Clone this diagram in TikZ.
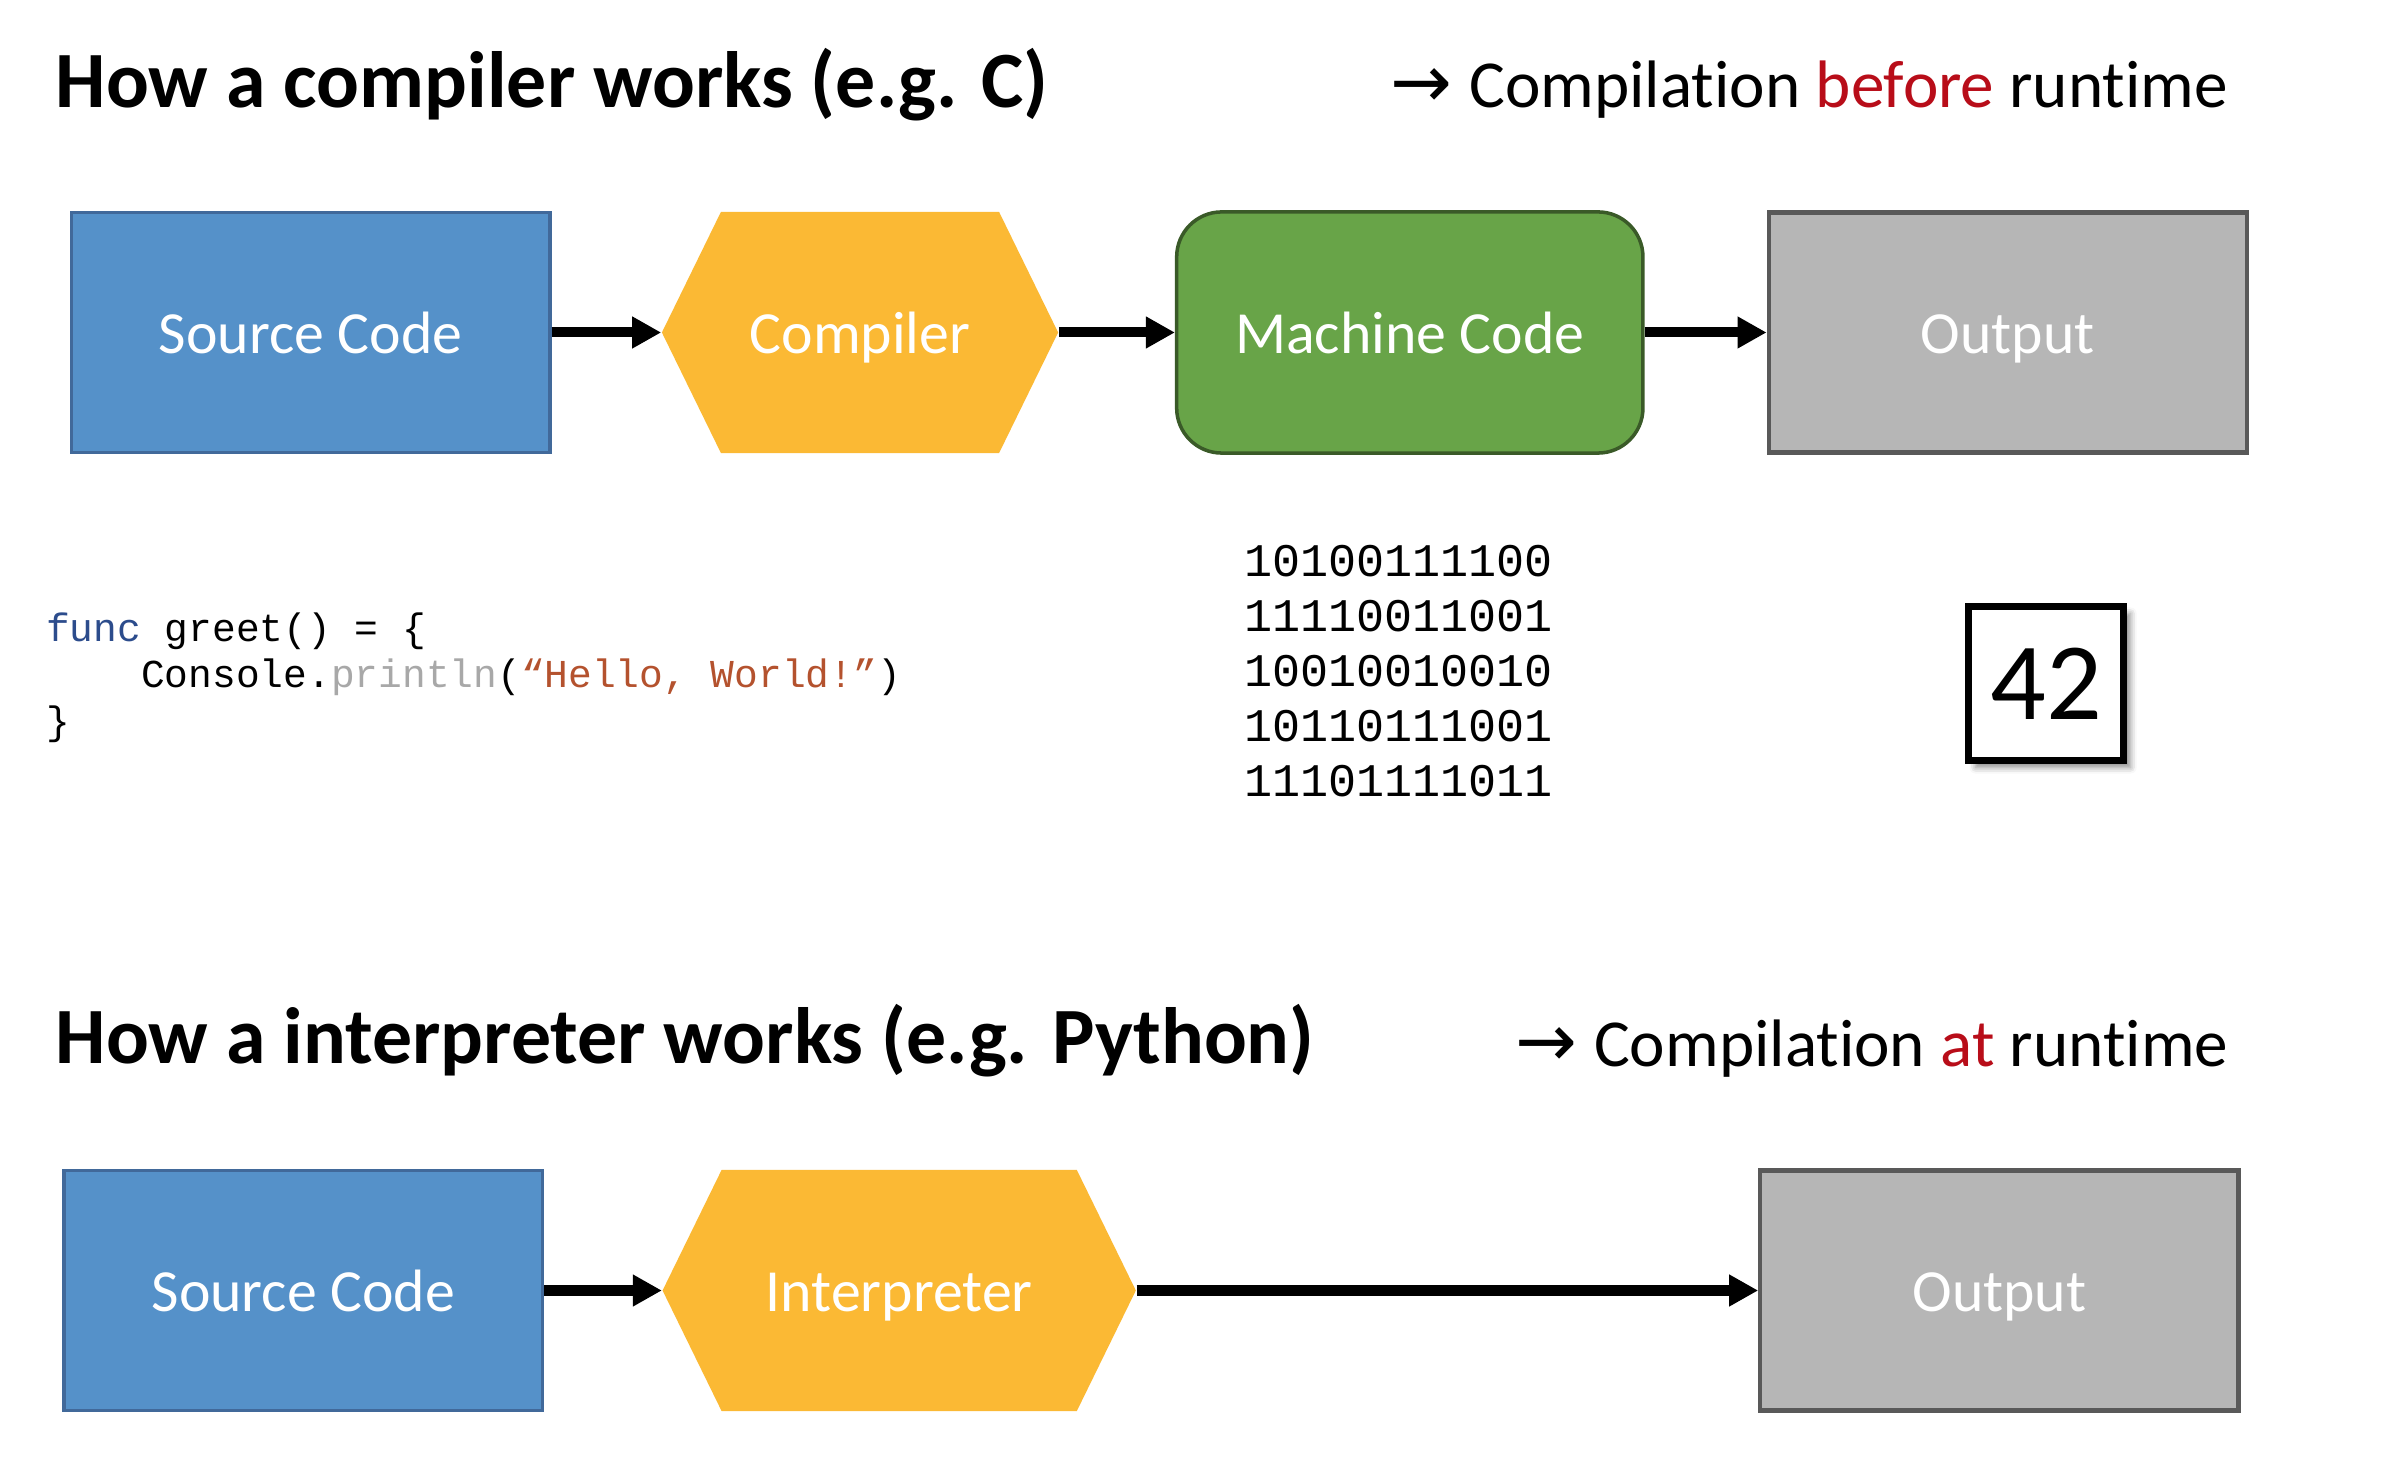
\documentclass[tikz,border=0pt]{standalone}
\usepackage{fontspec}
\setmainfont{Carlito}[Ligatures=NoCommon]
\newfontfamily\codefont{Liberation Mono}
\newfontfamily\arrowfont{DejaVu Sans}
\usepackage{tikz}
\usetikzlibrary{arrows.meta}
\usetikzlibrary{shadows.blur}

\definecolor{srcblue}{HTML}{5591C9}
\definecolor{srcedge}{HTML}{41699A}
\definecolor{hexorange}{HTML}{FBB934}
\definecolor{machgreen}{HTML}{68A448}
\definecolor{machedge}{HTML}{3A5A28}
\definecolor{outgray}{HTML}{B6B6B6}
\definecolor{outedge}{HTML}{595959}
\definecolor{darkred}{HTML}{B80D19}
\definecolor{kwblue}{HTML}{2C4C8C}
\definecolor{fngray}{HTML}{A8A8A8}
\definecolor{strrust}{HTML}{B4522E}

\tikzset{
  boxlabel/.style={text=white, font=\fontsize{17}{20}\selectfont, text height=11.8pt, text depth=0pt},
  srcbox/.style={boxlabel, rectangle, fill=srcblue, draw=srcedge, line width=1pt,
    minimum width=4.78cm, minimum height=2.40cm},
  hexbox/.style={boxlabel, rectangle, fill=white, minimum height=2.41cm,
    path picture={\fill[hexorange] (path picture bounding box.west)
      -- ([xshift=0.59cm]path picture bounding box.north west)
      -- ([xshift=-0.59cm]path picture bounding box.north east)
      -- (path picture bounding box.east)
      -- ([xshift=-0.59cm]path picture bounding box.south east)
      -- ([xshift=0.59cm]path picture bounding box.south west) -- cycle;}},
  outbox/.style={boxlabel, rectangle, fill=outgray, draw=outedge, line width=1.2pt,
    minimum width=4.78cm, minimum height=2.40cm},
  flow/.style={line width=2.85pt, -{Triangle[length=2.9mm, width=3mm]}},
  headline/.style={anchor=base west, inner sep=0pt, font=\fontsize{22.7}{27}\selectfont\bfseries},
  sidenote/.style={anchor=base west, inner sep=0pt, font=\fontsize{19.1}{23}\selectfont},
  codeline/.style={anchor=base west, inner sep=0pt, font=\codefont\fontsize{11.25}{13}\selectfont},
  bitline/.style={anchor=base west, inner sep=0pt, font=\codefont\fontsize{13.3}{16}\selectfont}
}

\begin{document}
\begin{tikzpicture}[x=0.01cm, y=-0.01cm]
    \useasboundingbox (0,0) rectangle (2394,1480);

    % compiler
    \node[headline] (title1) at (55,107.7) {How a compiler works (e.g. C)};
    \node[sidenote] (note1) at (1390,108) {{\arrowfont\fontsize{21}{24}\selectfont →}\hspace{0.25em}Compilation \textcolor{darkred}{before} runtime};

    \node[srcbox] (src1) at (310.7,332.5) {Source Code};
    \node[hexbox, minimum width=3.96cm] (comp) at (860,332.5) {Compiler};
    \node[boxlabel, rectangle, rounded corners=0.45cm, fill=machgreen, draw=machedge, line width=1pt,
      minimum width=4.66cm, minimum height=2.41cm] (mach) at (1409.8,332.5) {Machine Code};
    \node[outbox] (out1) at (2007.8,332.5) {Output};

    \draw[flow] (src1.east) -- (comp.west);
    \draw[flow] (comp.east) -- (mach.west);
    \draw[flow] (mach.east) -- (out1.west);

    \node[codeline] (code1) at (45.5,641.5) {\textcolor{kwblue}{func} greet() = \{};
    \node[codeline] (code2) at (45.5,688) {\phantom{xxxx}Console.\textcolor{fngray}{println}(\textcolor{strrust}{“Hello, World!”})};
    \node[codeline] (code3) at (45.5,734.5) {\}};

    \foreach \bits [count=\i] in {10100111100,11110011001,10010010010,10110111001,11101111011}
      \node[bitline] (bits\i) at (1243.6,522+55*\i) {\bits};

    \node[draw, line width=2pt, fill=white, minimum width=1.55cm, minimum height=1.54cm,
      font=\fontsize{31.3}{36}\selectfont,
      blur shadow={shadow xshift=0.7mm, shadow yshift=-0.7mm, shadow blur radius=0.6mm, shadow opacity=45}]
      (result) at (2046,683.5) {42};

    % interpreter
    \node[headline] (title2) at (55,1064) {How a interpreter works (e.g. Python)};
    \node[sidenote] (note2) at (1514.8,1067) {{\arrowfont\fontsize{21}{24}\selectfont →}\hspace{0.25em}Compilation \textcolor{darkred}{at} runtime};

    \node[srcbox] (src2) at (303.3,1290.5) {Source Code};
    \node[hexbox, minimum width=4.73cm] (interp) at (899.2,1290.5) {Interpreter};
    \node[outbox] (out2) at (1999.4,1290.5) {Output};

    \draw[flow] (src2.east) -- (interp.west);
    \draw[flow] (interp.east) -- (out2.west);
\end{tikzpicture}
\end{document}
